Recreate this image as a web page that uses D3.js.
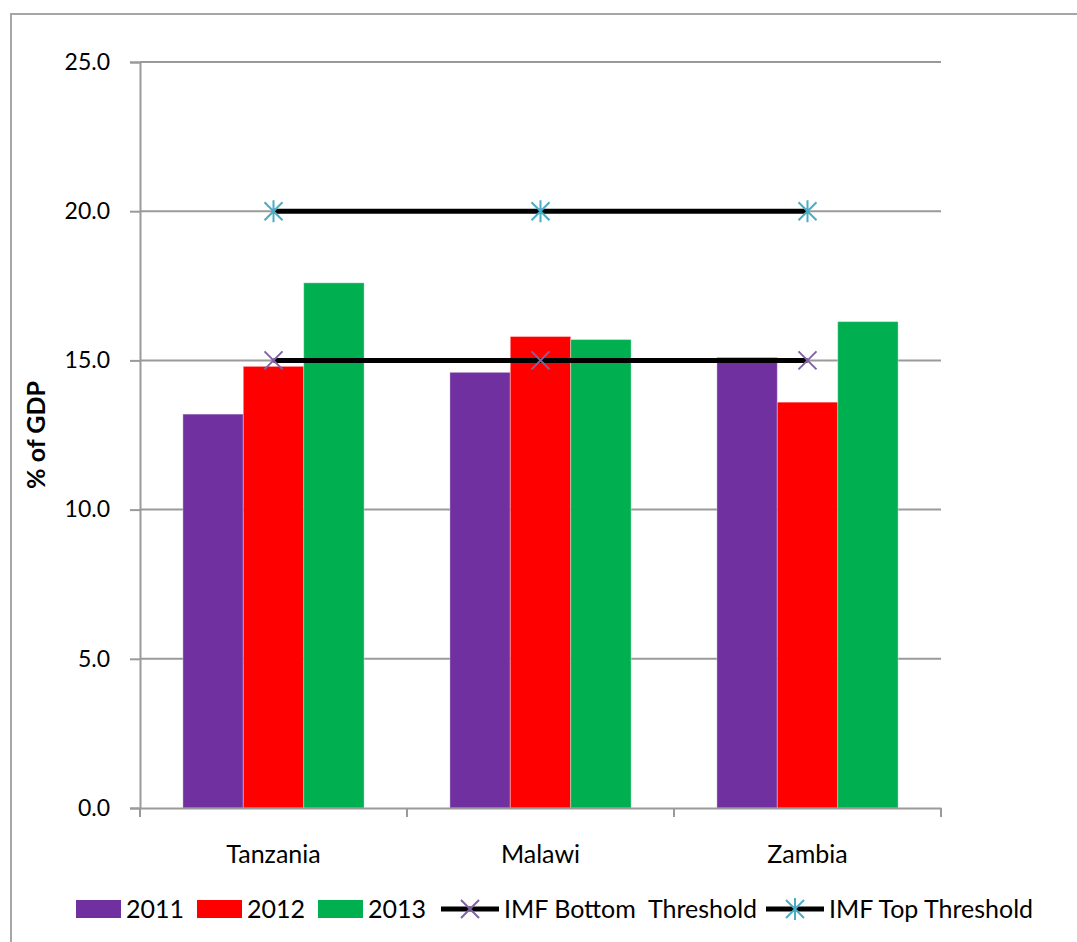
<!DOCTYPE html>
<html>
<head>
<meta charset="utf-8">
<script src="https://cdn.jsdelivr.net/npm/d3@7"></script>
<style>
  html, body { margin: 0; padding: 0; background: #fff; }
  svg { display: block; font-family: Lato, "Open Sans", sans-serif; }
</style>
</head>
<body>
<svg id="chart" width="1077" height="942"></svg>
<script>
// Tax revenue as share of GDP, by country and year
const countries = ["Tanzania", "Malawi", "Zambia"];
const years = ["2011", "2012", "2013"];
const values2011 = [13.2, 14.6, 15.1];
const values2012 = [14.8, 15.8, 13.6];
const values2013 = [17.6, 15.7, 16.3];
const imfBottom = [15.0, 15.0, 15.0];
const imfTop = [20.0, 20.0, 20.0];
const yTicks = [0, 5, 10, 15, 20, 25];

const seriesByYear = { "2011": values2011, "2012": values2012, "2013": values2013 };
const colors = { "2011": "#7030a0", "2012": "#ff0000", "2013": "#00b050" };
const bottomColor = "#8064a2";
const topColor = "#4bacc6";

const svg = d3.select("#chart");
const margin = { left: 140, right: 136, top: 62, bottom: 134 };
const W = 1077, H = 942;
const plotW = W - margin.left - margin.right;
const plotH = H - margin.top - margin.bottom;

// outer chart frame
svg.append("rect")
  .attr("x", 11).attr("y", 14)
  .attr("width", W + 20).attr("height", H + 20)
  .attr("fill", "#fff").attr("stroke", "#a6a6a6").attr("stroke-width", 2);

const g = svg.append("g").attr("transform", `translate(${margin.left},${margin.top})`);

const x0 = d3.scaleBand().domain(countries).range([0, plotW]).padding(0);
const x1 = d3.scaleBand().domain(years).range([0, x0.bandwidth()])
  .paddingInner(0).paddingOuter(0.71);
const y = d3.scaleLinear().domain([0, 25]).range([plotH, 0]);

// horizontal gridlines
g.append("g").selectAll("line").data(yTicks.filter(t => t > 0)).join("line")
  .attr("x1", 0).attr("x2", plotW)
  .attr("y1", d => y(d)).attr("y2", d => y(d))
  .attr("stroke", "#9a9a9a").attr("stroke-width", 2);

// y axis
const yAxis = g.append("g")
  .call(d3.axisLeft(y).tickValues(yTicks).tickFormat(d3.format(".1f")).tickSize(10).tickPadding(20));
yAxis.select(".domain").attr("stroke", "#9a9a9a").attr("stroke-width", 2);
yAxis.selectAll(".tick line").attr("stroke", "#9a9a9a").attr("stroke-width", 2);
yAxis.selectAll(".tick text").attr("font-size", 23).attr("font-family", "Lato, sans-serif").attr("fill", "#000");

// bars
const groups = g.append("g").selectAll("g").data(countries).join("g")
  .attr("transform", d => `translate(${x0(d)},0)`);
groups.selectAll("rect")
  .data((c, i) => years.map(yr => ({ yr, v: seriesByYear[yr][i] })))
  .join("rect")
  .attr("x", d => x1(d.yr))
  .attr("width", x1.bandwidth())
  .attr("y", d => y(d.v))
  .attr("height", d => plotH - y(d.v))
  .attr("fill", d => colors[d.yr])
  .attr("stroke", "rgba(255,255,255,0.35)").attr("stroke-width", 1);

// x axis
const xAxis = g.append("g").attr("transform", `translate(0,${plotH})`)
  .call(d3.axisBottom(x0).tickSize(0).tickPadding(37));
xAxis.select(".domain").attr("stroke", "#9a9a9a").attr("stroke-width", 2);
xAxis.selectAll(".tick text").attr("font-size", 25).attr("font-family", "Lato, sans-serif").attr("fill", "#000");
// category boundary ticks
const bounds = countries.map(c => x0(c)).concat([plotW]);
xAxis.append("g").selectAll("line").data(bounds).join("line")
  .attr("x1", d => d).attr("x2", d => d).attr("y1", 0).attr("y2", 9)
  .attr("stroke", "#9a9a9a").attr("stroke-width", 2);

// threshold lines
const cx = c => x0(c) + x0.bandwidth() / 2;
const line = d3.line().x(d => cx(d.c)).y(d => y(d.v));
function drawThreshold(vals, markerColor, marker) {
  const pts = countries.map((c, i) => ({ c, v: vals[i] }));
  g.append("path").datum(pts).attr("d", line)
    .attr("fill", "none").attr("stroke", "#000").attr("stroke-width", 5);
  const m = g.append("g").selectAll("g").data(pts).join("g")
    .attr("transform", d => `translate(${cx(d.c)},${y(d.v)})`);
  marker(m, markerColor);
}
function xMarker(sel, color) {
  const s = 9;
  sel.append("path").attr("d", `M${-s},${-s}L${s},${s}M${-s},${s}L${s},${-s}`)
    .attr("stroke", color).attr("stroke-width", 2).attr("fill", "none");
}
function starMarker(sel, color) {
  const s = 9;
  sel.append("path").attr("d", `M${-s},${-s}L${s},${s}M${-s},${s}L${s},${-s}M0,${-s - 2}L0,${s + 2}`)
    .attr("stroke", color).attr("stroke-width", 2).attr("fill", "none");
}
drawThreshold(imfBottom, bottomColor, xMarker);
drawThreshold(imfTop, topColor, starMarker);

// y axis title
svg.append("text")
  .attr("transform", `translate(45,${margin.top + plotH / 2}) rotate(-90)`)
  .attr("text-anchor", "middle")
  .attr("font-size", 25).attr("font-weight", "bold")
  .text("% of GDP");

// legend
const legendY = 909;
const legendItems = [
  { label: "2011", type: "rect", color: colors["2011"], x: 76 },
  { label: "2012", type: "rect", color: colors["2012"], x: 197 },
  { label: "2013", type: "rect", color: colors["2013"], x: 318 },
  { label: "IMF Bottom  Threshold", type: "line", color: bottomColor, marker: xMarker, x: 441 },
  { label: "IMF Top Threshold", type: "line", color: topColor, marker: starMarker, x: 766 }
];
const lg = svg.append("g");
legendItems.forEach(it => {
  const item = lg.append("g").attr("transform", `translate(${it.x},${legendY})`);
  let w;
  if (it.type === "rect") {
    w = 45;
    item.append("rect").attr("x", 0).attr("y", -9).attr("width", w).attr("height", 18).attr("fill", it.color);
  } else {
    w = 58;
    item.append("line").attr("x1", 0).attr("x2", w).attr("y1", 0).attr("y2", 0)
      .attr("stroke", "#000").attr("stroke-width", 5);
    const mk = item.append("g").attr("transform", `translate(${w / 2},0)`);
    it.marker(mk, it.color);
  }
  item.append("text").attr("x", w + 5).attr("y", 0).attr("dy", "0.35em")
    .attr("font-size", 25).attr("xml:space", "preserve").style("white-space", "pre")
    .text(it.label);
});
</script>
</body>
</html>
